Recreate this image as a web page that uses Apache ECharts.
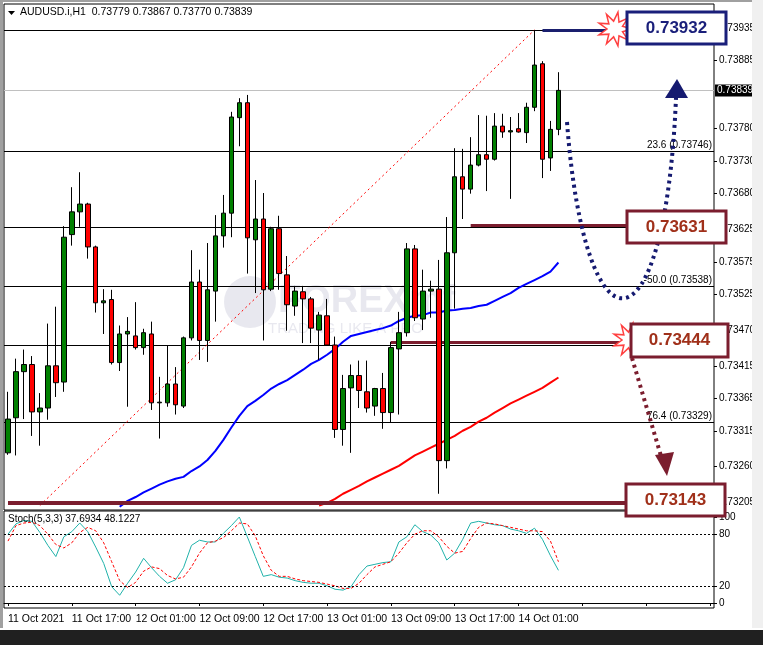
<!DOCTYPE html>
<html><head><meta charset="utf-8">
<script src="https://cdn.jsdelivr.net/npm/echarts@6/dist/echarts.min.js"></script>
<style>html,body{margin:0;padding:0;background:#fff}#c{width:763px;height:645px}</style>
</head><body><div id="c"></div>
<script>
// OHLC in price points (1e-5): [open, close, low, high]
const ohlcPoints = [
[73281,73333,73278,73375],[73335,73406,73277,73426],[73406,73417,73333,73440],[73417,73344,73307,73430],
[73344,73350,73292,73373],[73350,73415,73332,73480],[73415,73389,73367,73506],[73390,73613,73375,73630],
[73617,73652,73600,73690],[73652,73664,73629,73713],[73664,73598,73580,73666],[73598,73512,73497,73600],
[73512,73515,73464,73533],[73517,73420,73417,73532],[73420,73464,73407,73477],[73464,73468,73352,73490],
[73461,73443,73440,73513],[73443,73466,73432,73472],[73464,73358,73347,73483],[73358,73359,73303,73398],
[73358,73387,73352,73446],[73387,73355,73340,73413],[73353,73458,73350,73460],[73458,73544,73454,73593],
[73544,73454,73424,73563],[73454,73532,73421,73604],[73530,73615,73483,73647],[73615,73650,73597,73678],
[73650,73798,73613,73806],[73797,73820,73753,73827],[73820,73612,73557,73832],[73609,73641,73527,73701],
[73641,73532,73454,73681],[73533,73626,73530,73629],[73626,73557,73532,73646],[73555,73509,73469,73584],
[73507,73530,73492,73538],[73529,73518,73450,73538],[73518,73473,73450,73521],[73470,73493,73424,73498],
[73492,73447,73446,73518],[73447,73317,73304,73460],[73317,73380,73292,73401],[73381,73400,73281,73417],
[73400,73377,73350,73423],[73375,73350,73343,73423],[73353,73380,73338,73381],[73380,73343,73318,73404],
[73343,73443,73327,73452],[73441,73466,73340,73498],[73466,73595,73460,73604],[73595,73489,73484,73601],
[73487,73530,73470,73563],[73530,73533,73489,73546],[73533,73269,73218,73578],[73269,73589,73257,73644],
[73589,73706,73503,73750],[73706,73687,73641,73749],[73687,73724,73680,73767],[73724,73740,73722,73801],
[73740,73733,73684,73800],[73733,73784,73731,73804],[73784,73775,73766,73803],[73775,73777,73672,73798],
[73780,73775,73774,73804],[73774,73813,73758,73820],[73813,73878,73807,73932],[73880,73733,73704,73884],
[73735,73779,73715,73792],[73779,73839,73770,73867]
];
// Blue MA from bar 14, red MA from bar 39 (points)
const maBluePoints = [73198,73207,73213,73220,73226,73232,73237,73241,73244,73253,73260,73270,73284,73301,73320,73338,73353,73361,73370,73380,73387,73393,73401,73409,73418,73424,73432,73441,73452,73461,73464,73467,73470,73473,73477,73484,73489,73492,73493,73497,73497,73500,73501,73503,73504,73507,73509,73515,73521,73527,73535,73541,73547,73553,73560,73574];
const maBlueStart = 14;
const maRedPoints = [73200,73204,73210,73218,73224,73230,73237,73243,73249,73255,73261,73269,73277,73283,73289,73295,73301,73307,73315,73321,73329,73335,73343,73350,73357,73363,73369,73375,73381,73389,73397];
const maRedStart = 39;
const stochMain = [80,92,96,95,82,67,54,77,83,93,83,65,46,19,9,23,36,52,41,31,23,27,41,67,73,71,71,81,90,100,77,54,31,33,30,29,26,24,23,23,20,16,15,19,33,43,45,47,48,71,77,91,83,79,70,50,58,74,93,95,93,91,90,86,84,81,87,74,55,38];
const stochSignal = [72,90,93,94,90,80,68,64,70,82,88,84,70,48,26,18,24,37,42,40,32,28,30,42,58,70,72,76,84,93,92,78,55,38,31,31,28,26,25,24,22,20,17,17,23,33,42,45,48,58,70,80,84,84,77,66,58,60,75,88,93,92,90,88,86,84,84,83,72,48];
const timeTicks = ['11 Oct 2021','11 Oct 17:00','12 Oct 01:00','12 Oct 09:00','12 Oct 17:00','13 Oct 01:00','13 Oct 09:00','13 Oct 17:00','14 Oct 01:00'];
const priceTicks = [0.73935,0.73885,0.73780,0.73730,0.73680,0.73625,0.73575,0.73525,0.73470,0.73415,0.73365,0.73315,0.73260,0.73205];
const stochTicks = [0,20,80,100];
const fibLevels = [{v:0.73932,t:''},{v:0.73746,t:'23.6 (0.73746)'},{v:0.73629,t:''},{v:0.73538,t:'-50.0 (0.73538)'},{v:0.73447,t:''},{v:0.73329,t:'76.4 (0.73329)'}];
const lastPrice = 0.73839;
const levelBoxes = ['0.73932','0.73631','0.73444','0.73143'];

const nCat = 89;
const cats = Array.from({length:nCat},(_,i)=>i);
const P = v => +(v/1e5).toFixed(5);
const candles = ohlcPoints.map(r=>r.map(P));
const pad = (arr,start)=>{const a=new Array(start).fill(null);return a.concat(arr.map(P));};
const blue = pad(maBluePoints,maBlueStart);
const red = pad(maRedPoints,maRedStart);

const chart = echarts.init(document.getElementById('c'));
const F = 'Liberation Sans, Arial, sans-serif';

function star(cx,cy,r1,r2,n){const pts=[];for(let i=0;i<n*2;i++){const a=Math.PI*i/n;const r=i%2?r2:r1;pts.push([cx+r*Math.cos(a),cy+r*Math.sin(a)]);}return pts;}
function box(x,y,w,h,color,textColor,text){
  return [{type:'rect',shape:{x:x,y:y,width:w,height:h},style:{fill:'#fff',stroke:color,lineWidth:3},z:100},
          {type:'text',x:x+w/2,y:y+h/2,style:{text:text,fill:textColor,font:'bold 17px '+F,align:'center',verticalAlign:'middle'},z:101}];
}
function seg(x0,x1,v,ls){return [{coord:[x0,v],lineStyle:ls,label:{show:false}},{coord:[x1,v]}];}

chart.setOption({
  animation:false,
  grid:[{left:4,right:49,top:4,height:506,show:true,borderColor:'#000',borderWidth:1},
        {left:4,right:49,top:511,height:97,show:true,borderColor:'#000',borderWidth:1}],
  xAxis:[
    {type:'category',data:cats,gridIndex:0,boundaryGap:true,axisLine:{show:false},axisTick:{show:false},axisLabel:{show:false},splitLine:{show:false}},
    {type:'category',data:cats,gridIndex:1,boundaryGap:true,axisLine:{show:true,lineStyle:{color:'#000'}},
     axisTick:{show:true,alignWithLabel:true,interval:(i)=>i%8===0,length:3,lineStyle:{color:'#000'}},
     axisLabel:{interval:(i)=>i%8===0 && i/8<timeTicks.length,formatter:(v,i)=>timeTicks[i/8]||'',align:'left',margin:6,color:'#000',fontSize:10.5,fontFamily:F}}
  ],
  yAxis:[
    {type:'value',gridIndex:0,position:'right',min:0.73193,max:0.73972,splitLine:{show:false},axisLine:{show:false},
     axisTick:{show:true,customValues:priceTicks,length:3,lineStyle:{color:'#000'}},
     axisLabel:{customValues:priceTicks,formatter:v=>v.toFixed(5),color:'#000',fontSize:10,fontFamily:F,margin:5}},
    {type:'value',gridIndex:1,position:'right',min:-5.8,max:107,splitLine:{show:false},axisLine:{show:false},
     axisTick:{show:true,customValues:stochTicks,length:3,lineStyle:{color:'#000'}},
     axisLabel:{customValues:stochTicks,color:'#000',fontSize:10,fontFamily:F,margin:5}}
  ],
  series:[
    {type:'candlestick',xAxisIndex:0,yAxisIndex:0,data:candles,barWidth:5,z:5,
     itemStyle:{color:'#008000',color0:'#ff0000',borderColor:'#000',borderColor0:'#000',borderWidth:1},
     markLine:{silent:true,symbol:'none',animation:false,data:[
       [{coord:[4,0.73200],lineStyle:{color:'#ff0000',width:1,type:[2,3]},label:{show:false}},{coord:[66,0.73932]}],
       seg(58,79,0.73631,{color:'#7b1d2e',width:3,type:'solid'}),
       seg(48,79,0.73451,{color:'#7b1d2e',width:3,type:'solid'}),
       seg(0,79,0.73204,{color:'#7b1d2e',width:4,type:'solid'}),
       seg(67,77,0.73932,{color:'#1a1f6e',width:3,type:'solid'})
     ]}},
    {type:'line',xAxisIndex:0,yAxisIndex:0,data:blue,showSymbol:false,lineStyle:{color:'#0000ff',width:2},z:3},
    {type:'line',xAxisIndex:0,yAxisIndex:0,data:red,showSymbol:false,lineStyle:{color:'#ff0000',width:2},z:3},
    {type:'line',xAxisIndex:1,yAxisIndex:1,data:stochMain,showSymbol:false,lineStyle:{color:'#20b2aa',width:1},
     markLine:{silent:true,symbol:'none',label:{show:false},lineStyle:{color:'#000',type:[2,2],width:1},data:[{yAxis:20},{yAxis:80}]}},
    {type:'line',xAxisIndex:1,yAxisIndex:1,data:stochSignal,showSymbol:false,lineStyle:{color:'#ff0000',width:1,type:[3,2]}}
  ]
});

const yPix = v => chart.convertToPixel({yAxisIndex:0}, v);
const gr = [
    {type:'circle',shape:{cx:250,cy:302,r:26},style:{fill:'rgba(190,190,210,0.35)'},z:0,silent:true},
    {type:'text',x:278,y:283,style:{text:'FOREXmf',fill:'rgba(190,190,210,0.35)',font:'bold 38px '+F},z:0,silent:true},
    {type:'text',x:268,y:321,style:{text:'TRADING LIKE A PRO',fill:'rgba(190,190,210,0.35)',font:'15px '+F},z:0,silent:true},
    {type:'polygon',shape:{points:[[8,11],[15,11],[11.5,15]]},style:{fill:'#000'},z:50},
    {type:'text',x:20,y:7,style:{text:'AUDUSD.i,H1  0.73779 0.73867 0.73770 0.73839',fill:'#000',font:'10.5px '+F},z:50},
    {type:'text',x:8,y:514,style:{text:'Stoch(5,3,3) 37.6934 48.1227',fill:'#000',font:'10px '+F},z:50},
    {type:'rect',shape:{x:0,y:0,width:3,height:628},style:{fill:'#a0a0a0'},z:60},
    {type:'rect',shape:{x:0,y:0,width:763,height:2},style:{fill:'#a0a0a0'},z:60},
    {type:'rect',shape:{x:752,y:0,width:11,height:628},style:{fill:'#f0f0f0'},z:60},
    {type:'rect',shape:{x:0,y:630,width:763,height:15},style:{fill:'#202020'},z:60},
    {type:'bezierCurve',shape:{x1:567,y1:122,cpx1:585,cpy1:361,cpx2:665,cpy2:361,x2:676,y2:98},style:{stroke:'#151a70',lineWidth:4,lineDash:[3,4],fill:null},z:80},
    {type:'polygon',shape:{points:[[665,98],[688,98],[677,79]]},style:{fill:'#151a70'},z:80},
    {type:'line',shape:{x1:632,y1:358,x2:661,y2:456},style:{stroke:'#7b1d2e',lineWidth:4,lineDash:[3,4]},z:80},
    {type:'polygon',shape:{points:[[655,455],[674,452],[667,476]]},style:{fill:'#7b1d2e'},z:80},
    {type:'polygon',shape:{points:star(615,29,17,8,9)},style:{fill:'#fff',stroke:'#ff4040',lineWidth:1.5},z:90},
    {type:'polygon',shape:{points:star(630,340,17,8,9)},style:{fill:'#fff',stroke:'#ff4040',lineWidth:1.5},z:90},
    ...box(627,12,99,32,'#1a1f7a','#1a1f7a',levelBoxes[0]),
    ...box(627,211,99,32,'#7b1d2e','#a0301a',levelBoxes[1]),
    ...box(631,324,97,33,'#7b1d2e','#a0301a',levelBoxes[2]),
    ...box(626,484,99,32,'#7b1d2e','#a0301a',levelBoxes[3])
];
const ly = yPix(lastPrice);
gr.push({type:'line',shape:{x1:4,y1:Math.round(ly)+0.5,x2:714,y2:Math.round(ly)+0.5},style:{stroke:'#c0c0c0',lineWidth:1},z:1,silent:true});
fibLevels.forEach(f=>{
  const y = Math.round(yPix(f.v))+0.5;
  gr.push({type:'line',shape:{x1:4,y1:y,x2:714,y2:y},style:{stroke:'#000',lineWidth:1},z:1,silent:true});
  if (f.t) gr.push({type:'text',x:712,y:y-1,style:{text:f.t,fill:'#000',font:'10px '+F,align:'right',verticalAlign:'bottom'},z:70});
});
gr.push({type:'rect',shape:{x:715,y:ly-6,width:37,height:12},style:{fill:'#000'},z:55});
gr.push({type:'text',x:717,y:ly,style:{text:lastPrice.toFixed(5),fill:'#fff',font:'10px '+F,verticalAlign:'middle'},z:56});
chart.setOption({graphic:gr});
</script></body></html>
